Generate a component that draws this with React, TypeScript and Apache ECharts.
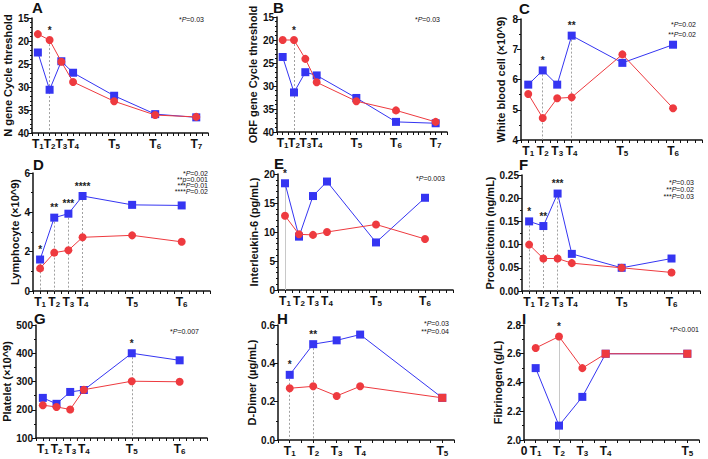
import React, { useEffect, useRef } from "react";
import * as echarts from "echarts";

// ---- data ----
const daysA = [1, 3, 5, 7, 14, 21, 28];
const daysC = [1, 3, 5, 7, 14, 21];
const daysH = [1, 3, 5, 7, 14];

const nGeneSevere = [22.5, 30.6, 24.4, 26.9, 31.9, 35.9, 36.6];
const nGeneMild = [18.5, 19.8, 24.5, 28.9, 33.1, 36.1, 36.5];
const nGeneStars = ["", "*", "", "", "", "", ""];

const orfSevere = [23.7, 31.4, 27.0, 27.7, 32.6, 37.8, 38.1];
const orfMild = [20.0, 20.0, 24.1, 29.2, 33.3, 35.3, 37.8];
const orfStars = ["", "*", "", "", "", "", ""];

const wbcSevere = [5.83, 6.3, 5.83, 7.45, 6.55, 7.15];
const wbcMild = [5.52, 4.73, 5.38, 5.41, 6.83, 5.05];
const wbcStars = ["", "*", "", "**", "", ""];

const lymSevere = [1.6, 3.73, 3.93, 4.83, 4.38, 4.35];
const lymMild = [1.15, 1.95, 2.07, 2.73, 2.83, 2.5];
const lymStars = ["*", "**", "***", "****", "", ""];

const il6Severe = [18.4, 9.2, 16.2, 18.7, 8.2, 15.9];
const il6Mild = [12.8, 9.6, 9.5, 10.0, 11.3, 8.8];
const il6Stars = ["*", "", "", "", "", ""];

const pctSevere = [0.15, 0.14, 0.21, 0.08, 0.05, 0.07];
const pctMild = [0.1, 0.07, 0.07, 0.06, 0.05, 0.04];
const pctStars = ["*", "**", "***", "", "", ""];

const pltSevere = [242, 221, 263, 270, 400, 375];
const pltMild = [216, 210, 201, 271, 301, 299];
const pltStars = ["", "", "", "", "*", ""];

const ddSevere = [0.34, 0.5, 0.52, 0.55, 0.22];
const ddMild = [0.27, 0.28, 0.23, 0.28, 0.22];
const ddStars = ["*", "**", "", "", ""];

const fibSevere = [2.5, 2.1, 2.3, 2.6, 2.6];
const fibMild = [2.64, 2.72, 2.5, 2.6, 2.6];
const fibStars = ["", "*", "", "", ""];

const notesA = ["*{i|P}=0.03"];
const notesB = ["*{i|P}=0.03"];
const notesC = ["*{i|P}=0.02", "**{i|P}=0.02"];
const notesD = ["*{i|P}=0.02", "**{i|p}=0.001", "***{i|P}=0.01", "****{i|P}=0.02"];
const notesE = ["*{i|P}=0.003"];
const notesF = ["*{i|P}=0.03", "**{i|P}=0.02", "***{i|P}=0.03"];
const notesG = ["*{i|P}=0.007"];
const notesH = ["*{i|P}=0.03", "**{i|P}=0.04"];
const notesI = ["*{i|P}<0.001"];

const BLUE = "#3535f2";
const RED = "#ee3a3f";
const FONT = "Liberation Sans, Arial, Helvetica, sans-serif";

type Panel = {
  letter: string;
  days: number[];
  blue: number[];
  red: number[];
  stars: string[];
  yName: string;
  yMin: number;
  yMax: number;
  yInt: number;
  minorSplit: number;
  inverse?: boolean;
  dec: number;
  xMax: number;
  left: number;
  top: number;
  width: number;
  height: number;
  nameGap: number;
  letterX: number;
  letterY: number;
  notes: string[];
  noteX: number;
  noteY: number;
  noteStep: number;
  showZero?: boolean;
  redSquareTie?: boolean;
  solidGuide?: boolean;
};

const panels: Panel[] = [
  { letter: "A", days: daysA, blue: nGeneSevere, red: nGeneMild, stars: nGeneStars, yName: "N gene Cycle threshold", yMin: 15, yMax: 40, yInt: 5, minorSplit: 5, inverse: true, dec: 0, xMax: 30, left: 32, top: 18, width: 176, height: 115, nameGap: 15, letterX: 32, letterY: 0, notes: notesA, noteX: 204, noteY: 19, noteStep: 8 },
  { letter: "B", days: daysA, blue: orfSevere, red: orfMild, stars: orfStars, yName: "ORF gene Cycle threshold", yMin: 15, yMax: 40, yInt: 5, minorSplit: 5, inverse: true, dec: 0, xMax: 30, left: 277, top: 17, width: 170, height: 115, nameGap: 17, letterX: 273, letterY: 0, notes: notesB, noteX: 440, noteY: 19, noteStep: 8 },
  { letter: "C", days: daysC, blue: wbcSevere, red: wbcMild, stars: wbcStars, yName: "White blood cell (\u00d710^9)", yMin: 4, yMax: 8, yInt: 1, minorSplit: 2, dec: 0, xMax: 25, left: 521, top: 19, width: 181, height: 121, nameGap: 15, letterX: 519, letterY: 1, notes: notesC, noteX: 696, noteY: 24, noteStep: 10 },
  { letter: "D", days: daysC, blue: lymSevere, red: lymMild, stars: lymStars, yName: "Lymphocyte (\u00d710^9)", yMin: 0, yMax: 6, yInt: 2, minorSplit: 2, dec: 0, xMax: 25, left: 33, top: 173, width: 177, height: 118, nameGap: 12, letterX: 33, letterY: 157, notes: notesD, noteX: 208, noteY: 173, noteStep: 6 },
  { letter: "E", days: daysC, blue: il6Severe, red: il6Mild, stars: il6Stars, yName: "Interleukin-6 (pg/mL)", yMin: 0, yMax: 20, yInt: 5, minorSplit: 5, dec: 0, xMax: 25, left: 278, top: 174, width: 175, height: 116, nameGap: 19, letterX: 274, letterY: 156, notes: notesE, noteX: 445, noteY: 178, noteStep: 7, solidGuide: true },
  { letter: "F", days: daysC, blue: pctSevere, red: pctMild, stars: pctStars, yName: "Procalcitonin (ng/mL)", yMin: 0, yMax: 0.25, yInt: 0.05, minorSplit: 2, dec: 2, xMax: 25, left: 522, top: 175, width: 178, height: 116, nameGap: 26, letterX: 519, letterY: 157, notes: notesF, noteX: 694, noteY: 182, noteStep: 7 },
  { letter: "G", days: daysC, blue: pltSevere, red: pltMild, stars: pltStars, yName: "Platelet (\u00d710^9)", yMin: 100, yMax: 500, yInt: 100, minorSplit: 2, dec: 0, xMax: 25, left: 36, top: 325, width: 171, height: 113, nameGap: 23, letterX: 34, letterY: 311, notes: notesG, noteX: 199, noteY: 331, noteStep: 7 },
  { letter: "H", days: daysH, blue: ddSevere, red: ddMild, stars: ddStars, yName: "D-Dimer (\u00b5g/mL)", yMin: 0, yMax: 0.6, yInt: 0.2, minorSplit: 2, dec: 1, xMax: 15, left: 278, top: 325, width: 176, height: 115, nameGap: 19, letterX: 277, letterY: 311, notes: notesH, noteX: 449, noteY: 323, noteStep: 8, redSquareTie: true },
  { letter: "I", days: daysH, blue: fibSevere, red: fibMild, stars: fibStars, yName: "Fibrinogen (g/L)", yMin: 2.0, yMax: 2.8, yInt: 0.2, minorSplit: 2, dec: 1, xMax: 15, left: 524, top: 325, width: 175, height: 115, nameGap: 19, letterX: 522, letterY: 311, notes: notesI, noteX: 699, noteY: 329, noteStep: 7, showZero: true, redSquareTie: true, solidGuide: true },
];

const starLabel = (s: string) => ({
  show: true,
  formatter: s,
  position: "top",
  distance: 1,
  fontSize: 10,
  fontWeight: "bold",
  color: "#222",
  fontFamily: FONT,
});

function buildOption() {
  const grid: any[] = [];
  const xAxis: any[] = [];
  const yAxis: any[] = [];
  const series: any[] = [];
  const graphic: any[] = [];

  panels.forEach((p, i) => {
    grid.push({ left: p.left, top: p.top, width: p.width, height: p.height, containLabel: false });
    xAxis.push({
      type: "value",
      gridIndex: i,
      min: 0,
      max: p.xMax,
      interval: 1,
      splitLine: { show: false },
      axisLine: { show: true, onZero: false, lineStyle: { color: "#111", width: 1.5 } },
      axisTick: { show: true, length: 3, lineStyle: { color: "#111", width: 1 } },
      axisLabel: {
        show: true,
        margin: 4,
        hideOverlap: false,
        showMinLabel: true,
        showMaxLabel: true,
        formatter: (v: number) => {
          const k = p.days.indexOf(v);
          if (k >= 0) return `{t|T}{s|${k + 1}}`;
          if (v === 0 && p.showZero) return "{t|0}";
          return "";
        },
        rich: {
          t: { fontSize: 12, fontWeight: "bold", color: "#111", fontFamily: FONT, lineHeight: 13 },
          s: { fontSize: 8, fontWeight: "bold", color: "#111", fontFamily: FONT, padding: [6, 0, 0, 0], lineHeight: 8 },
        },
      },
    });
    yAxis.push({
      type: "value",
      gridIndex: i,
      min: p.yMin,
      max: p.yMax,
      interval: p.yInt,
      inverse: !!p.inverse,
      name: p.yName,
      nameLocation: "middle",
      nameRotate: 90,
      nameGap: p.nameGap,
      nameTextStyle: { fontSize: 11, fontWeight: "bold", color: "#111", fontFamily: FONT },
      splitLine: { show: false },
      axisLine: { show: true, lineStyle: { color: "#111", width: 1.5 } },
      axisTick: { show: true, length: 4, lineStyle: { color: "#111", width: 1 } },
      minorTick: { show: true, splitNumber: p.minorSplit, length: 2, lineStyle: { color: "#111", width: 1 } },
      axisLabel: {
        margin: 3,
        fontSize: 10,
        fontWeight: "bold",
        color: "#111",
        fontFamily: FONT,
        formatter: (v: number) => v.toFixed(p.dec),
      },
    });

    const blueTop = (k: number) => (p.inverse ? p.blue[k] <= p.red[k] : p.blue[k] >= p.red[k]);

    const blueData = p.days.map((d, k) => {
      const item: any = { value: [d, p.blue[k]] };
      if (p.stars[k] && blueTop(k)) item.label = starLabel(p.stars[k]);
      return item;
    });
    const redData = p.days.map((d, k) => {
      const item: any = { value: [d, p.red[k]] };
      if (p.stars[k] && !blueTop(k)) item.label = starLabel(p.stars[k]);
      if (p.redSquareTie && p.red[k] === p.blue[k]) {
        item.symbol = "rect";
        item.symbolSize = 8;
      }
      return item;
    });

    const bottomVal = p.inverse ? p.yMax : p.yMin;
    const markLines = p.days
      .map((d, k) => {
        if (!p.stars[k]) return null;
        const topVal = blueTop(k) ? p.blue[k] : p.red[k];
        return [{ coord: [d, topVal] }, { coord: [d, bottomVal] }];
      })
      .filter((x) => x);

    series.push({
      type: "line",
      xAxisIndex: i,
      yAxisIndex: i,
      data: blueData,
      symbol: "rect",
      symbolSize: 8,
      itemStyle: { color: BLUE },
      lineStyle: { color: BLUE, width: 1 },
      label: { show: false },
      z: 2,
      markLine: {
        silent: true,
        symbol: ["none", "none"],
        label: { show: false },
        lineStyle: p.solidGuide
          ? { color: "#c8c8c8", type: "solid", width: 1 }
          : { color: "#888", type: [2, 2], width: 0.8 },
        data: markLines,
        z: 1,
      },
    });
    series.push({
      type: "line",
      xAxisIndex: i,
      yAxisIndex: i,
      data: redData,
      symbol: "circle",
      symbolSize: 8,
      itemStyle: { color: RED },
      lineStyle: { color: RED, width: 1 },
      label: { show: false },
      z: 3,
    });

    graphic.push({
      type: "text",
      left: p.letterX,
      top: p.letterY,
      style: { text: p.letter, fontSize: 15, fontWeight: "bold", fill: "#111", fontFamily: FONT },
    });
    p.notes.forEach((n, j) => {
      graphic.push({
        type: "text",
        x: p.noteX,
        y: p.noteY + j * p.noteStep,
        style: {
          text: n,
          fontSize: 7,
          fill: "#111",
          fontFamily: FONT,
          align: "right",
          verticalAlign: "middle",
          rich: { i: { fontSize: 7, fontStyle: "italic", fill: "#111", fontFamily: FONT } },
        },
      });
    });
  });

  return {
    animation: false,
    backgroundColor: "#ffffff",
    grid,
    xAxis,
    yAxis,
    series,
    graphic,
  };
}

export default function App() {
  const ref = useRef<HTMLDivElement>(null);
  useEffect(() => {
    if (!ref.current) return;
    const chart = echarts.init(ref.current, undefined, { renderer: "svg" });
    chart.setOption(buildOption() as any);
    return () => chart.dispose();
  }, []);
  return (
    <div
      ref={ref}
      style={{ position: "fixed", left: 0, top: 0, width: 708, height: 459, background: "#fff" }}
    />
  );
}
